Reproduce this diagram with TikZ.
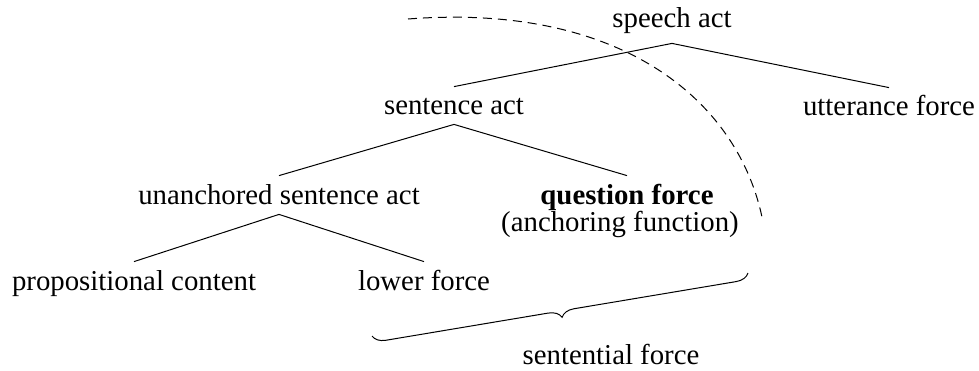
\documentclass[tikz,border=0pt]{standalone}
\usepackage{fontspec}
\setmainfont{Liberation Serif}
\usetikzlibrary{decorations.pathreplacing}
\begin{document}
\begin{tikzpicture}[x=0.5pt,y=-0.5pt,
  lbl/.style={font=\fontsize{14.4}{17}\selectfont, anchor=base, text height=12.5pt, text depth=3.5pt, inner sep=2pt},
  sublbl/.style={font=\fontsize{14.4}{17}\selectfont, anchor=base, text height=8pt, text depth=3pt, inner sep=0pt},
  edge/.style={line width=0.5pt},
  dashline/.style={line width=0.5pt, dash pattern=on 4.5pt off 3pt},
  bracestyle/.style={line width=0.5pt, decorate, decoration={brace, mirror, amplitude=6.5pt}}]
\useasboundingbox (0,0) rectangle (979,370);
\node[lbl] (sa) at (672,27) {speech act};
\node[lbl] (sen) at (454,114) {sentence act};
\node[lbl] (uf) at (889,115) {utterance force};
\node[lbl] (usa) at (279,204) {unanchored sentence act};
\node[lbl, text depth=0pt] (qf) at (627,204) {\bfseries question force};
\node[sublbl] (af) at (620,231) {(anchoring function)};
\node[lbl] (pc) at (134,290) {propositional content};
\node[lbl] (lf) at (424,290) {lower force};
\node[lbl] (sf) at (611,364) {sentential force};
\draw[edge] ([yshift=-2.5pt]sa.south) -- ([yshift=-1pt]sen.north);
\draw[edge] ([yshift=-2.5pt]sa.south) -- ([yshift=-1pt]uf.north);
\draw[edge] ([yshift=0.5pt]sen.south) -- ([yshift=-0.5pt]usa.north);
\draw[edge] ([yshift=0.5pt]sen.south) -- ([yshift=-0.5pt]qf.north);
\draw[edge] ([yshift=0.5pt]usa.south) -- ([yshift=-0.5pt]pc.north);
\draw[edge] ([yshift=0.5pt]usa.south) -- ([yshift=-0.5pt]lf.north);
\coordinate (d1) at (408,19);
\coordinate (d2) at (763,222);
\draw[dashline] (d1) .. controls (623,2.4) and (740,102) .. (d2);
\coordinate (b1) at (372,336);
\coordinate (b2) at (748,273);
\draw[bracestyle] (b1) -- (b2);
\end{tikzpicture}
\end{document}
